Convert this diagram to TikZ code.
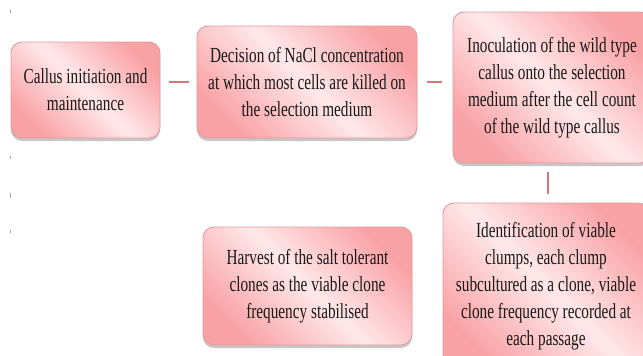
\documentclass[tikz,border=0pt]{standalone}
\usepackage{fontspec}
\newfontfamily\boxfont[FakeStretch=0.71]{Liberation Serif}
\usetikzlibrary{shadows,calc}
\definecolor{pdark}{HTML}{F9A2A5}
\definecolor{plight}{HTML}{FFE8EA}
\definecolor{pborder}{HTML}{E29A9E}
\definecolor{pline}{HTML}{D2767A}
\pgfdeclarehorizontalshading{pinkband}{100bp}{color(0bp)=(pdark); color(25bp)=(pdark); color(50bp)=(plight); color(75bp)=(pdark); color(100bp)=(pdark)}
\tikzset{
  stepbox/.style={draw=pborder, line width=0.9pt, rounded corners=11pt,
    shading=pinkband, shading angle=45,
    drop shadow={shadow xshift=0pt, shadow yshift=-3pt, fill=black!40, opacity=0.55},
    align=center, inner sep=0pt, font=\boxfont\fontsize{21.5}{27}\selectfont, text=black!90},
  link/.style={draw=pline, line width=1.1pt},
  tick/.style={draw=black!35, line width=0.6pt}
}
\begin{document}
\begin{tikzpicture}[x=1pt,y=-1pt]
\useasboundingbox[fill=white] (0,0) rectangle (643,356);
\node[stepbox, minimum width=149pt, minimum height=96pt] (b1) at (85.5,90) {Callus initiation and\\maintenance};
\node[stepbox, minimum width=220pt, minimum height=112pt] (b2) at (307,82) {Decision of NaCl concentration\\at which most cells are killed on\\the selection medium};
\node[stepbox, minimum width=198pt, minimum height=151pt] (b3) at (552,87.5) {Inoculation of the wild type\\callus onto the selection\\medium after the cell count\\of the wild type callus};
\node[stepbox, minimum width=206pt, minimum height=166pt] (b4) at (546,286) {Identification of viable\\clumps, each clump\\subcultured as a clone, viable\\clone frequency recorded at\\each passage};
\node[stepbox, minimum width=209pt, minimum height=118pt] (b5) at (307.5,286) {Harvest of the salt tolerant\\clones as the viable clone\\frequency stabilised};
\draw[link] ($(b2.west)+(-28,0)$) coordinate (c1a) -- ($(b2.west)+(-8,0)$) coordinate (c1b);
\draw[link] ($(b2.east)+(10,0)$) coordinate (c2a) -- ($(b2.east)+(25,0)$) coordinate (c2b);
\draw[link] ($(b4.north)+(2,-31)$) coordinate (c3a) -- ($(b4.north)+(2,-9)$) coordinate (c3b);
\coordinate (t1) at (10,10);
\coordinate (t2) at (10,156);
\coordinate (t3) at (10,193);
\coordinate (t4) at (10,230);
\draw[tick] (t1) -- ++(0,3);
\draw[tick] (t2) -- ++(0,3);
\draw[tick] (t3) -- ++(0,5);
\draw[tick] (t4) -- ++(0,3);
\end{tikzpicture}
\end{document}
